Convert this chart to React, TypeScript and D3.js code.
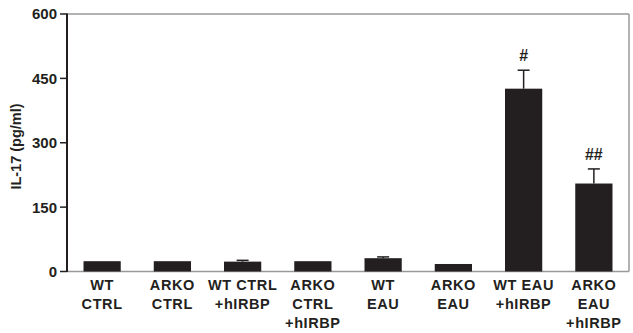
import React from "react";
import * as d3 from "d3";

const categories = ["WT CTRL", "ARKO CTRL", "WT CTRL +hIRBP", "ARKO CTRL +hIRBP", "WT EAU", "ARKO EAU", "WT EAU +hIRBP", "ARKO EAU +hIRBP"];
const categoryLines = [["WT", "CTRL"], ["ARKO", "CTRL"], ["WT CTRL", "+hIRBP"], ["ARKO", "CTRL", "+hIRBP"], ["WT", "EAU"], ["ARKO", "EAU"], ["WT EAU", "+hIRBP"], ["ARKO", "EAU", "+hIRBP"]];
const means = [24, 24, 23, 24, 31, 17.5, 426, 205];
const errors = [0, 0, 3, 0, 3, 0, 43, 34];
const annotations = ["", "", "", "", "", "", "#", "##"];
const yTicks = [0, 150, 300, 450, 600];
const yLabel = "IL-17 (pg/ml)";

export default function App() {
  const W = 633, H = 333;
  const left = 67, right = 629, top = 14, bottom = 271.5;
  const x = d3.scaleBand<string>().domain(categories).range([left, right]).paddingInner(0.47).paddingOuter(0.235);
  const y = d3.scaleLinear().domain([0, 600]).range([bottom, top]);
  const ink = "#231f20";
  const font = "'Liberation Sans', Arial, sans-serif";
  return (
    <svg width={W} height={H} style={{ position: "absolute", left: 0, top: 0 }} fontFamily={font}>
      <rect width={W} height={H} fill="#fff" />
      <line x1={left} x2={right} y1={top} y2={top} stroke="#999" strokeWidth={1.5} />
      <line x1={right} x2={right} y1={top} y2={bottom} stroke="#999" strokeWidth={1.5} />
      <line x1={left} x2={right} y1={bottom} y2={bottom} stroke="#999" strokeWidth={1.5} />
      {categories.map((c, i) => {
        const bx = x(c)!;
        const bw = x.bandwidth();
        const cx = bx + bw / 2;
        const yt = y(means[i]);
        const ye = y(means[i] + errors[i]);
        return (
          <g key={c}>
            {errors[i] > 0 && (
              <g stroke={ink} strokeWidth={1.5}>
                <line x1={cx} x2={cx} y1={yt} y2={ye} />
                <line x1={cx - 6} x2={cx + 6} y1={ye} y2={ye} />
              </g>
            )}
            <rect x={bx} y={yt} width={bw} height={bottom - yt} fill={ink} />
            {annotations[i] && (
              <text x={cx} y={ye - 9} textAnchor="middle" fontSize={16} fontWeight="bold" fill={ink}>{annotations[i]}</text>
            )}
            {categoryLines[i].map((t, k) => (
              <text key={k} x={cx} y={290 + k * 19} textAnchor="middle" fontSize={14.5} fontWeight="bold" letterSpacing={0.6} fill={ink}>{t}</text>
            ))}
          </g>
        );
      })}
      <line x1={left} x2={left} y1={top - 0.5} y2={bottom + 0.5} stroke={ink} strokeWidth={2} />
      {yTicks.map((t) => (
        <g key={t}>
          <line x1={left - 7} x2={left} y1={y(t)} y2={y(t)} stroke={ink} strokeWidth={1.5} />
          <text x={left - 10} y={y(t)} dy="0.36em" textAnchor="end" fontSize={15} fontWeight="bold" fill={ink}>{t}</text>
        </g>
      ))}
      <text transform={`translate(21,146.5) rotate(-90)`} textAnchor="middle" fontSize={14.5} fontWeight="bold" fill={ink}>{yLabel}</text>
    </svg>
  );
}
